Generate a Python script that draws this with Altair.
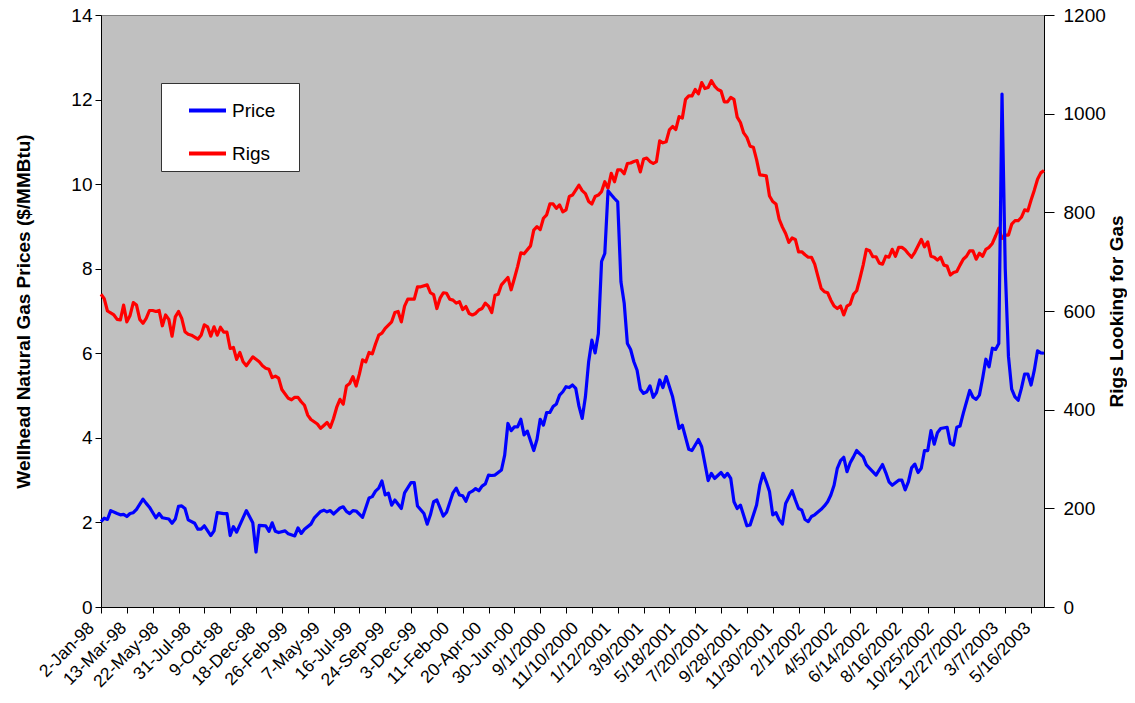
import altair as alt
import pandas as pd

# Category labels shown every 10 weekly observations
x_labels = ["2-Jan-98", "13-Mar-98", "22-May-98", "31-Jul-98", "9-Oct-98", "18-Dec-98",
            "26-Feb-99", "7-May-99", "16-Jul-99", "24-Sep-99", "3-Dec-99", "11-Feb-00",
            "20-Apr-00", "30-Jun-00", "9/1/2000", "11/10/2000", "1/12/2001", "3/9/2001",
            "5/18/2001", "7/20/2001", "9/28/2001", "11/30/2001", "2/1/2002", "4/5/2002",
            "6/14/2002", "8/16/2002", "10/25/2002", "12/27/2002", "3/7/2003", "5/16/2003"]

# Wellhead price ($/MMBtu), week index -> value
price_weeks = [0, 1, 2, 3, 5, 6, 7, 8, 9, 10, 11, 13, 14, 15, 17, 18, 19, 21, 22, 23,
               24, 25, 26, 27, 29, 30, 31, 32, 34, 35, 36, 38, 39, 40, 41, 42, 45, 47, 48, 49,
               51, 52, 53, 54, 55, 57, 58, 60, 61, 62, 63, 65, 66, 68, 69, 70, 71, 72, 74, 75,
               76, 77, 78, 79, 81, 83, 84, 85, 86, 87, 88, 89, 90, 91, 93, 94, 96, 97, 98, 100,
               101, 102, 103, 104, 106, 107, 109, 110, 111, 112, 113, 114, 115, 116, 117, 118, 119, 120, 121, 122,
               124, 125, 126, 127, 128, 129, 130, 131, 132, 134, 135, 136, 137, 138, 139, 140, 141, 142, 143, 144,
               145, 146, 147, 148, 149, 150, 151, 152, 153, 154, 155, 156, 157, 158, 159, 160, 161, 162, 163, 164,
               165, 166, 167, 168, 169, 170, 171, 172, 173, 174, 175, 177, 179, 180, 182, 183, 185, 186, 188, 189,
               190, 192, 193, 194, 195, 196, 197, 198, 200, 201, 203, 204, 205, 206, 207, 208, 209, 210, 211, 212,
               214, 215, 216, 217, 218, 219, 220, 221, 223, 224, 225, 226, 227, 228, 229, 230, 231, 232, 233, 234,
               235, 236, 237, 238, 240, 242, 243, 244, 245, 247, 248, 249, 250, 251, 252, 253, 254, 255, 256, 257,
               258, 259, 260, 262, 263, 264, 265, 266, 267, 269, 270, 271, 272, 273, 274, 275, 276, 277, 278, 279,
               280, 281, 282, 283, 284, 285, 286, 287, 288, 289, 290, 291, 292]
price_values = [2.02, 2.10, 2.07, 2.28, 2.21, 2.18, 2.19, 2.14, 2.21, 2.23, 2.31, 2.55, 2.45, 2.36, 2.11, 2.21, 2.11, 2.08, 1.98, 2.08,
                2.38, 2.39, 2.33, 2.06, 1.98, 1.84, 1.84, 1.92, 1.69, 1.80, 2.23, 2.21, 2.21, 1.69, 1.90, 1.77, 2.28, 1.99, 1.30, 1.93,
                1.92, 1.79, 1.99, 1.79, 1.76, 1.80, 1.73, 1.68, 1.87, 1.74, 1.84, 1.96, 2.10, 2.26, 2.29, 2.25, 2.28, 2.20, 2.34, 2.37,
                2.26, 2.21, 2.28, 2.27, 2.12, 2.58, 2.61, 2.74, 2.81, 2.98, 2.65, 2.69, 2.41, 2.53, 2.33, 2.70, 2.94, 2.94, 2.39, 2.21,
                1.96, 2.18, 2.49, 2.53, 2.15, 2.24, 2.70, 2.81, 2.65, 2.63, 2.50, 2.70, 2.74, 2.80, 2.75, 2.86, 2.91, 3.12, 3.11, 3.12,
                3.24, 3.59, 4.34, 4.17, 4.26, 4.26, 4.44, 4.07, 4.16, 3.70, 3.96, 4.44, 4.30, 4.60, 4.60, 4.74, 4.80, 5.01, 5.09, 5.21,
                5.19, 5.25, 5.17, 4.75, 4.46, 4.97, 5.80, 6.31, 6.01, 6.46, 8.17, 8.36, 9.84, 9.75, 9.66, 9.58, 7.69, 7.19, 6.23, 6.09,
                5.80, 5.60, 5.15, 5.05, 5.09, 5.23, 4.96, 5.07, 5.37, 5.19, 5.45, 4.97, 4.22, 4.30, 3.73, 3.70, 3.96, 3.79, 2.99, 3.16,
                3.04, 3.18, 3.07, 3.16, 3.04, 2.49, 2.33, 2.41, 1.92, 1.94, 2.41, 2.88, 3.16, 2.96, 2.73, 2.18, 2.23, 2.06, 1.96, 2.45,
                2.75, 2.53, 2.33, 2.29, 2.07, 2.02, 2.14, 2.18, 2.31, 2.39, 2.49, 2.65, 2.88, 3.28, 3.46, 3.54, 3.20, 3.41, 3.55, 3.70,
                3.62, 3.55, 3.36, 3.28, 3.12, 3.37, 3.18, 2.96, 2.88, 3.00, 3.00, 2.77, 2.96, 3.29, 3.38, 3.18, 3.28, 3.70, 3.70, 4.17,
                3.85, 4.12, 4.22, 4.25, 3.87, 3.83, 4.25, 4.28, 4.58, 5.12, 4.96, 4.91, 5.01, 5.41, 5.86, 5.68, 6.12, 6.09, 6.23, 12.13,
                8.00, 5.92, 5.15, 4.97, 4.89, 5.17, 5.51, 5.51, 5.25, 5.60, 6.06, 6.01, 6.00]

# Rigs looking for gas, week index -> value
rigs_weeks = [0, 1, 2, 3, 4, 5, 6, 7, 8, 9, 10, 11, 12, 13, 14, 15, 16, 17, 18, 19,
              20, 21, 22, 23, 24, 25, 26, 27, 28, 30, 31, 32, 33, 34, 35, 36, 37, 38, 39, 40,
              41, 42, 43, 44, 45, 47, 48, 49, 50, 51, 52, 53, 54, 55, 56, 58, 59, 60, 61, 62,
              63, 64, 65, 67, 68, 69, 70, 71, 72, 73, 74, 75, 76, 77, 78, 79, 80, 81, 82, 83,
              84, 85, 86, 87, 88, 90, 91, 92, 93, 94, 95, 97, 98, 99, 101, 102, 103, 104, 105, 106,
              107, 108, 109, 110, 111, 112, 113, 114, 115, 116, 117, 118, 119, 120, 121, 122, 123, 124, 126, 127,
              128, 129, 130, 131, 133, 134, 135, 136, 137, 138, 139, 140, 141, 142, 143, 144, 145, 146, 148, 149,
              150, 151, 152, 153, 154, 155, 156, 157, 158, 159, 160, 161, 162, 163, 164, 165, 166, 167, 168, 169,
              170, 171, 172, 173, 174, 175, 176, 177, 178, 179, 180, 181, 182, 183, 184, 185, 186, 187, 188, 189,
              190, 191, 192, 193, 194, 195, 196, 197, 198, 199, 200, 201, 202, 203, 204, 206, 207, 208, 209, 210,
              211, 212, 213, 214, 215, 216, 217, 218, 219, 220, 221, 222, 223, 224, 225, 226, 227, 228, 229, 230,
              231, 232, 233, 234, 235, 236, 237, 238, 239, 240, 241, 242, 243, 244, 245, 246, 247, 248, 249, 250,
              251, 252, 254, 255, 256, 257, 258, 259, 260, 261, 262, 263, 264, 265, 266, 267, 268, 269, 270, 271,
              272, 273, 274, 275, 276, 277, 278, 279, 280, 281, 282, 283, 284, 285, 286, 287, 288, 289, 290, 291,
              292]
rigs_values = [634, 625, 600, 596, 592, 583, 582, 612, 578, 591, 617, 612, 583, 575, 585, 601, 601, 599, 601, 570,
               592, 583, 549, 588, 599, 585, 558, 553, 551, 543, 551, 572, 568, 549, 568, 551, 567, 557, 557, 524,
               526, 502, 516, 497, 489, 507, 502, 497, 489, 484, 482, 465, 468, 464, 441, 423, 420, 425, 425, 416,
               409, 389, 380, 371, 362, 368, 374, 364, 382, 405, 421, 411, 448, 453, 467, 448, 472, 501, 497, 516,
               513, 533, 551, 555, 565, 578, 597, 599, 578, 610, 624, 624, 649, 649, 653, 637, 633, 605, 626, 637,
               636, 624, 622, 616, 619, 603, 609, 595, 592, 595, 602, 605, 616, 610, 597, 632, 634, 653, 668, 643,
               666, 690, 718, 716, 732, 764, 771, 765, 788, 795, 817, 817, 808, 815, 801, 805, 832, 835, 855, 844,
               838, 822, 817, 832, 835, 842, 862, 849, 879, 862, 886, 886, 878, 899, 900, 903, 905, 882, 908, 910,
               903, 899, 903, 945, 941, 943, 967, 974, 968, 994, 991, 1029, 1036, 1036, 1049, 1040, 1063, 1051, 1053, 1067,
               1056, 1049, 1046, 1024, 1024, 1033, 1029, 993, 982, 961, 952, 934, 932, 907, 876, 874, 833, 822, 817, 786,
               770, 757, 739, 748, 745, 720, 720, 714, 709, 709, 695, 670, 646, 639, 637, 622, 610, 605, 610, 592,
               610, 614, 634, 641, 666, 693, 725, 722, 710, 710, 697, 695, 711, 709, 725, 711, 729, 729, 724, 716,
               709, 719, 745, 730, 740, 711, 709, 703, 709, 693, 691, 673, 678, 680, 693, 705, 711, 722, 722, 705,
               717, 711, 725, 729, 737, 752, 768, 747, 754, 754, 776, 783, 783, 790, 805, 803, 825, 845, 867, 880,
               885]

series_names = ["Price", "Rigs"]
series_colors = ["#0000FF", "#FF0000"]

price_df = pd.DataFrame({"week": price_weeks, "value": price_values, "series": "Price"})
rigs_df = pd.DataFrame({"week": rigs_weeks, "value": rigs_values, "series": "Rigs"})

FONT = "Liberation Sans"
labels_js = "[" + ",".join("'" + s + "'" for s in x_labels) + "]"
label_expr = "datum.value % 10 == 0 ? " + labels_js + "[datum.value / 10] : ''"
tick_values = sorted(set(range(0, 293, 8)) | set(range(0, 291, 10)))

x_axis = alt.Axis(
    values=tick_values, labelExpr=label_expr, labelAngle=-45, labelAlign="right",
    labelBaseline="middle", labelOffset=-10, labelPadding=12, labelFontSize=17.5,
    labelFont=FONT, labelColor="black", labelOverlap=False, labelFlush=False,
    labelBound=False, tickSize=6, tickColor="black",
    tickOpacity={"condition": {"test": "datum.value % 8 == 0", "value": 1}, "value": 0},
    domainColor="black", domainWidth=1, grid=False, title=None,
)
x_enc = alt.X("week:Q", scale=alt.Scale(domain=[0, 292], nice=False, zero=False), axis=x_axis)

color_enc = alt.Color(
    "series:N",
    scale=alt.Scale(domain=series_names, range=series_colors),
    legend=alt.Legend(
        orient="none", legendX=60, legendY=68, title=None,
        fillColor="white", strokeColor="#333333", padding=7,
        symbolType="stroke", symbolSize=1369, symbolStrokeWidth=4, symbolOffset=19,
        labelOffset=4, labelFontSize=19, labelFont=FONT, labelColor="black",
        rowPadding=12, labelExpr="datum.label + '\u00a0\u00a0\u00a0\u200b'",
    ),
)

left_axis = alt.Axis(
    orient="left", values=list(range(0, 15, 2)), tickSize=6, labelPadding=3,
    labelFontSize=19, labelFont=FONT, labelColor="black", tickColor="black",
    domainColor="black", grid=False,
    title="Wellhead Natural Gas Prices ($/MMBtu)", titleFont=FONT, titleFontSize=19,
    titleFontWeight="bold", titleColor="black", titleAngle=270, titleBaseline="bottom",
    titleAlign="center", titleX=-68, titleY=296,
)
right_axis = alt.Axis(
    orient="right", values=list(range(0, 1201, 200)), format="d", tickSize=10, labelPadding=9,
    labelFontSize=19, labelFont=FONT, labelColor="black", tickColor="black",
    domainColor="black", grid=False,
    title="Rigs Looking for Gas", titleFont=FONT, titleFontSize=19,
    titleFontWeight="bold", titleColor="black", titleAngle=270, titleBaseline="bottom",
    titleAlign="center", titleX=82, titleY=296,
)

rigs_line = alt.Chart(rigs_df).mark_line(strokeWidth=3.2, strokeJoin="round").encode(
    x=x_enc,
    y=alt.Y("value:Q", scale=alt.Scale(domain=[0, 1200], nice=False), axis=right_axis),
    color=color_enc,
)
price_line = alt.Chart(price_df).mark_line(strokeWidth=3.2, strokeJoin="round").encode(
    x=x_enc,
    y=alt.Y("value:Q", scale=alt.Scale(domain=[0, 14], nice=False), axis=left_axis),
    color=color_enc,
)

chart = (
    alt.layer(rigs_line, price_line)
    .resolve_scale(y="independent")
    .properties(
        width=943, height=592, autosize="none",
        padding={"left": 93, "top": 7, "right": 83, "bottom": 88},
        background="white",
        view=alt.ViewBackground(fill="#C0C0C0", stroke="#808080", strokeWidth=1),
    )
    .configure(font=FONT)
    .configure_view(fill="#C0C0C0", stroke="#808080", strokeWidth=1)
)

chart.save("out.html", embed_options={"renderer": "svg", "actions": False})
